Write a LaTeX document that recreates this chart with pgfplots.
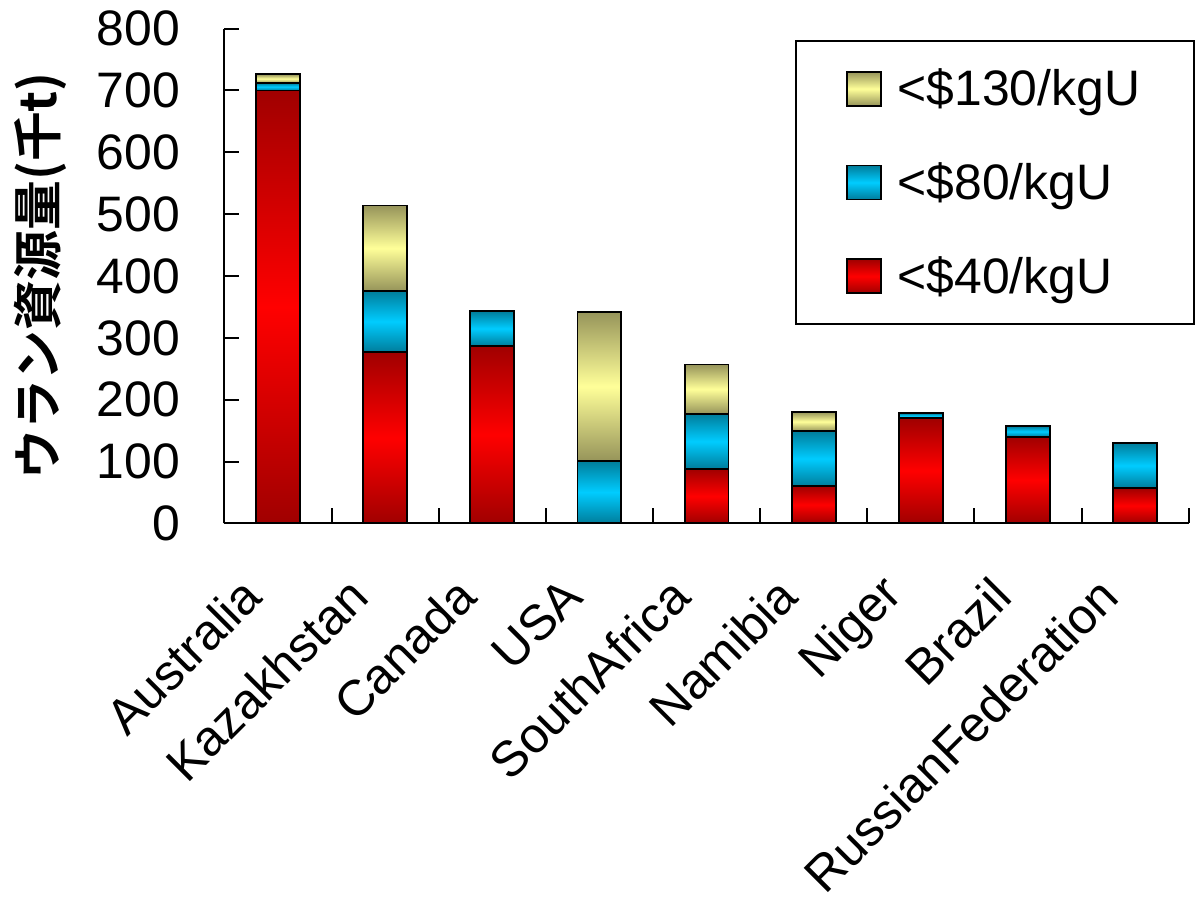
\documentclass[border=0pt]{standalone}
\usepackage{fontspec}
\setmainfont{Liberation Sans}
\newfontfamily\jp{Noto Sans CJK JP}[BoldFont={Noto Sans CJK JP Bold}]
\usepackage{pgfplots}
\pgfplotsset{compat=1.18}
\definecolor{rdark}{RGB}{160,0,0}
\definecolor{rmid}{RGB}{255,0,0}
\definecolor{bdark}{RGB}{0,125,155}
\definecolor{bmid}{RGB}{0,204,255}
\definecolor{ydark}{RGB}{150,148,90}
\definecolor{ymid}{RGB}{255,255,153}
\pgfplotsset{
  redseg/.style={draw=black, line width=0.9pt, top color=rdark, bottom color=rdark, middle color=rmid},
  bluseg/.style={draw=black, line width=0.9pt, top color=bdark, bottom color=bdark, middle color=bmid},
  yelseg/.style={draw=black, line width=0.9pt, top color=ydark, bottom color=ydark, middle color=ymid},
  geom/.style={at={(0,0)}, anchor=south west, scale only axis, width=483.75pt, height=248.2pt,
    ybar stacked, bar width=22pt, xmin=-0.5, xmax=8.5, ymin=0, ymax=800, enlargelimits=false},
  overlay/.style={geom, hide axis},
}
\begin{document}
\begin{tikzpicture}
\begin{axis}[
  geom,
  axis x line*=bottom, axis y line*=left,
  axis line style={line width=1pt, -},
  xtick={-0.5,0.5,...,8.5}, x tick label as interval,
  xticklabels={Australia,Kazakhstan,Canada,USA,SouthAfrica,Namibia,Niger,Brazil,RussianFederation},
  ytick={0,100,...,800},
  tick align=inside,
  major tick length=7.5pt,
  tick style={line width=1pt, black},
  /pgf/number format/assume math mode=true,
  tick label style={font=\fontsize{25}{30}\selectfont, inner sep=0pt},
  yticklabel style={xshift=-22pt, inner ysep=5.5pt},
  xticklabel style={xshift=-13pt, yshift=-32pt, rotate=45, anchor=east},
  ylabel={\jp\bfseries ウラン資源量(千t)},
  ylabel style={at={(axis description cs:-0.191,0.5)}, anchor=center, font=\fontsize{25}{30}\selectfont, inner xsep=0pt, inner ysep=7pt},
  reverse legend,
  legend cell align=left,
  legend image code/.code={\draw[#1, line width=0.9pt] (0pt,-8.5pt) rectangle (17pt,8.5pt);},
  legend style={at={(axis description cs:0.592,0.977)}, anchor=north west,
    draw=black, line width=1pt, inner xsep=25pt, inner ysep=12pt,
    font=\fontsize{25}{30}\selectfont, row sep=23pt, column sep=6pt,
    nodes={inner sep=2pt}},
]
% Australia
\addplot[redseg] coordinates {(0,700)}; \addlegendentry{<\$40/kgU}
\addplot[bluseg] coordinates {(0,12)};  \addlegendentry{<\$80/kgU}
\addplot[yelseg] coordinates {(0,14)};  \addlegendentry{<\$130/kgU}
\end{axis}
% Kazakhstan
\begin{axis}[overlay]
\addplot[redseg] coordinates {(1,277)};
\addplot[bluseg] coordinates {(1,99)};
\addplot[yelseg] coordinates {(1,138)};
\end{axis}
% Canada
\begin{axis}[overlay]
\addplot[redseg] coordinates {(2,287)};
\addplot[bluseg] coordinates {(2,56)};
\end{axis}
% USA
\begin{axis}[overlay]
\addplot[bluseg] coordinates {(3,101)};
\addplot[yelseg] coordinates {(3,241)};
\end{axis}
% South Africa
\begin{axis}[overlay]
\addplot[redseg] coordinates {(4,88)};
\addplot[bluseg] coordinates {(4,89)};
\addplot[yelseg] coordinates {(4,80)};
\end{axis}
% Namibia
\begin{axis}[overlay]
\addplot[redseg] coordinates {(5,60)};
\addplot[bluseg] coordinates {(5,89)};
\addplot[yelseg] coordinates {(5,31)};
\end{axis}
% Niger
\begin{axis}[overlay]
\addplot[redseg] coordinates {(6,170)};
\addplot[bluseg] coordinates {(6,8)};
\end{axis}
% Brazil
\begin{axis}[overlay]
\addplot[redseg] coordinates {(7,140)};
\addplot[bluseg] coordinates {(7,17)};
\end{axis}
% Russian Federation
\begin{axis}[overlay]
\addplot[redseg] coordinates {(8,57)};
\addplot[bluseg] coordinates {(8,73)};
\end{axis}
\end{tikzpicture}
\end{document}
